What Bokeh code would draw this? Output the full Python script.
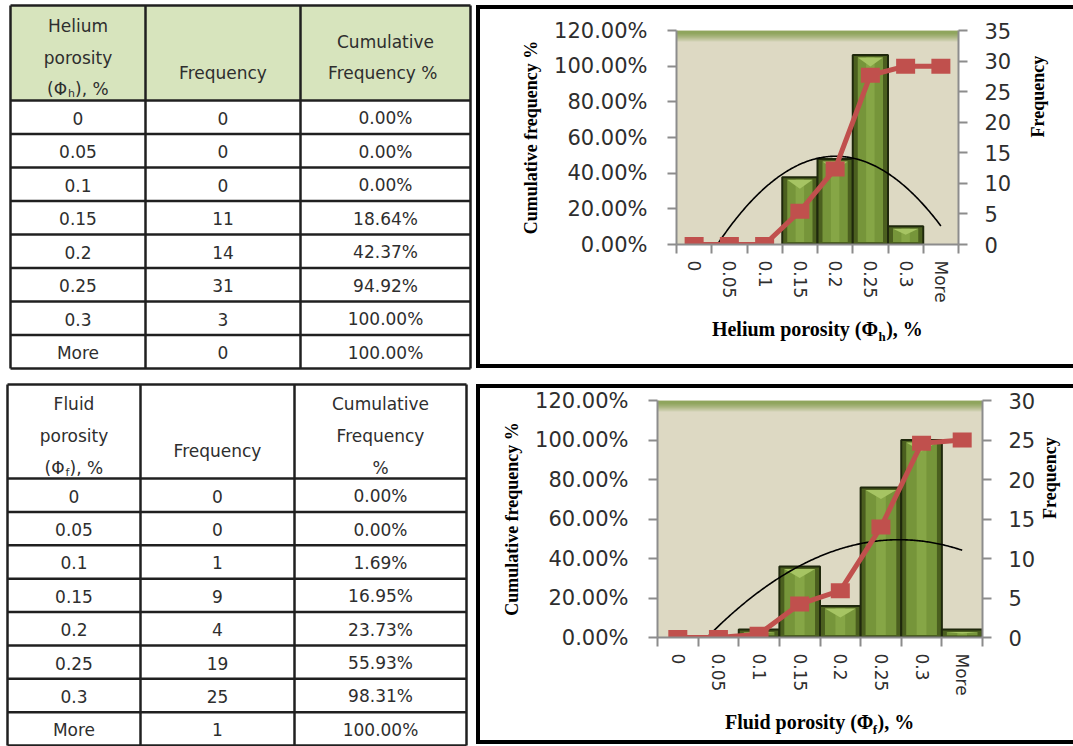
import math
import numpy as np
from bokeh.plotting import figure
from bokeh.layouts import column, row
from bokeh.models import Range1d, LinearAxis, FixedTicker, PrintfTickFormatter, Spacer
from bokeh.core.properties import value
from bokeh.embed import file_html
from bokeh.resources import INLINE

# ---------------- data ----------------
bins = ["0", "0.05", "0.1", "0.15", "0.2", "0.25", "0.3", "More"]

helium_freq = [0, 0, 0, 11, 14, 31, 3, 0]
helium_cum = [0.00, 0.00, 0.00, 18.64, 42.37, 94.92, 100.00, 100.00]

fluid_freq = [0, 0, 1, 9, 4, 19, 25, 1]
fluid_cum = [0.00, 0.00, 1.69, 16.95, 23.73, 55.93, 98.31, 100.00]

cum_ticks = [0, 20, 40, 60, 80, 100, 120]
helium_freq_ticks = [0, 5, 10, 15, 20, 25, 30, 35]
fluid_freq_ticks = [0, 5, 10, 15, 20, 25, 30]

# ---------------- styles ----------------
AXIS_GREY = "#8C8C8C"
TEXT_DARK = "#2E2E2E"
RED = "#C0504D"
TABLE_LINE = "#202020"
SANS = "DejaVu Sans"
SERIF = "Liberation Serif"
N = len(bins)
BOX_SHADOW = "inset 4px 0 0 0 #000, inset 0 4px 0 0 #000, inset 0 -4px 0 0 #000"


def build_table(width, height, cols, top, head_bottom, bottom, head_fill,
                head_lines, sub_line, freq, cum):
    p = figure(width=width, height=height, x_range=Range1d(0, width),
               y_range=Range1d(height, 0), output_backend="svg",
               toolbar_location=None, title=None, min_border=0,
               x_axis_location=None, y_axis_location=None,
               outline_line_color=None)
    p.grid.visible = False
    x0, x1, x2, x3 = cols
    if head_fill:
        p.quad(left=[x0], right=[x3], top=[top], bottom=[head_bottom],
               fill_color=head_fill, line_color=None)
    rh = (bottom - head_bottom) / N
    edges = [head_bottom + k * rh for k in range(N + 1)]
    hy = [top] + edges
    p.segment(x0=[x0] * len(hy), x1=[x3] * len(hy), y0=hy, y1=hy,
              line_color=TABLE_LINE, line_width=2.5)
    p.segment(x0=list(cols), x1=list(cols), y0=[top] * 4, y1=[bottom] * 4,
              line_color=TABLE_LINE, line_width=2.5)

    centers = [(x0 + x1) / 2, (x1 + x2) / 2, (x2 + x3) / 2]
    row_mid = [head_bottom + (k + 0.5) * rh + 1 for k in range(N)]
    common = dict(text_font=value(SANS), text_font_size="17px",
                  text_align="center", text_baseline="middle",
                  text_color=TEXT_DARK)
    p.text(x=[centers[0]] * N, y=row_mid, text=bins, **common)
    p.text(x=[centers[1]] * N, y=row_mid, text=[str(v) for v in freq], **common)
    p.text(x=[centers[2]] * N, y=row_mid, text=[f"{v:.2f}%" for v in cum], **common)

    for col, txt, y in head_lines:
        p.text(x=[centers[col]], y=[y], text=[txt], **common)
    pre, sub, post, y, wp, ws, wt = sub_line
    start = centers[0] - (wp + ws + wt) / 2
    left_common = dict(common, text_align="left")
    p.text(x=[start], y=[y], text=[pre], **left_common)
    p.text(x=[start + wp], y=[y + 5], text=[sub],
           **dict(left_common, text_font_size="11px"))
    p.text(x=[start + wp + ws], y=[y], text=[post], **left_common)
    return p


def style_value_axis(ax, standoff):
    ax.major_label_text_font = SANS
    ax.major_label_text_font_size = "21px"
    ax.major_label_text_color = TEXT_DARK
    ax.major_label_standoff = standoff
    ax.major_tick_out = 9
    ax.major_tick_in = 0
    ax.major_tick_line_color = AXIS_GREY
    ax.major_tick_line_width = 2
    ax.minor_tick_line_color = None
    ax.axis_line_color = AXIS_GREY
    ax.axis_line_width = 2


def text_axis(ticks, labels, size, standoff):
    ax = LinearAxis(ticker=FixedTicker(ticks=ticks, minor_ticks=[]))
    ax.major_label_overrides = dict(zip(ticks, labels))
    ax.axis_line_color = None
    ax.major_tick_line_color = None
    ax.minor_tick_line_color = None
    ax.major_tick_out = 0
    ax.major_tick_in = 0
    ax.major_label_standoff = standoff
    ax.major_label_text_font = SERIF
    ax.major_label_text_font_style = "bold"
    ax.major_label_text_font_size = size
    ax.major_label_text_color = "black"
    return ax


def build_chart(freq, cum, fmax, fticks, title_parts, origin, frame, size,
                freq_title_standoff):
    ox, oy = origin
    fl, ft, fw, fh = frame
    W, H = size
    p = figure(width=W, height=H,
               min_border_left=fl - ox, min_border_right=ox + W - (fl + fw),
               min_border_top=ft - oy, min_border_bottom=oy + H - (ft + fh),
               x_range=Range1d(0, N), y_range=Range1d(0, 120),
               output_backend="svg", toolbar_location=None, title=None,
               background_fill_color="#DDD9C3", border_fill_color=None,
               outline_line_color=None, styles={"box-shadow": BOX_SHADOW})
    p.grid.visible = False
    p.extra_y_ranges = {"freq": Range1d(0, fmax)}

    def xd(px):
        return (px - fl) / fw * N

    def yd(py):
        return (ft + fh - py) / fh * 120

    # olive band along the top of the plot area
    k = np.arange(12)
    alphas = [1.0 if i < 3 else max(0.0, 1 - (i - 2) / 9) for i in k]
    p.quad(left=0, right=N, top=[yd(ft + i) for i in k],
           bottom=[yd(ft + i + 1) for i in k], fill_color="#77933C",
           fill_alpha=alphas, line_color=None)

    # bevelled histogram bars
    slot_px = fw / N
    fpx = fh / fmax
    idx = [i for i, f in enumerate(freq) if f > 0]
    hts = [freq[i] for i in idx]
    ix = 5 / slot_px
    iy = 2.5 / fpx
    p.quad(left=idx, right=[i + 1 for i in idx], bottom=0, top=hts,
           fill_color="#4B5F1F", line_color="#1F280C", line_width=2,
           y_range_name="freq")
    inner_top = [max(h - iy, h * 0.6) for h in hts]
    inner_bot = [min(iy, h * 0.3) for h in hts]
    p.quad(left=[i + ix for i in idx], right=[i + 1 - ix for i in idx],
           bottom=inner_bot, top=inner_top, fill_color="#76953A",
           line_color=None, y_range_name="freq")
    p.quad(left=[i + 0.38 for i in idx], right=[i + 0.62 for i in idx],
           bottom=inner_bot, top=inner_top, fill_color="#86A646",
           line_color=None, y_range_name="freq")
    tri_xs, tri_ys = [], []
    for i, t, b in zip(idx, inner_top, inner_bot):
        depth = min(9 / fpx, (t - b) * 0.45)
        tri_xs.append([i + ix, i + 1 - ix, i + 0.5])
        tri_ys.append([t, t, t - depth])
    p.patches(tri_xs, tri_ys, fill_color="#A6C463", line_color=None,
              y_range_name="freq")

    # second-order polynomial trend of the frequency series
    pos = np.arange(N, dtype=float)
    coef = np.polyfit(pos, np.array(freq, dtype=float), 2)
    roots = [r.real for r in np.roots(coef)
             if abs(r.imag) < 1e-9 and 0 <= r.real <= N - 1]
    start = min(roots) if roots else 0.0
    tx = np.linspace(start, N - 1, 200)
    ty = np.polyval(coef, tx)
    p.line(tx + 0.5, ty, line_color="black", line_width=1.6, y_range_name="freq")

    # cumulative percentage line with square markers
    cx = [i + 0.5 for i in range(N)]
    p.line(cx, cum, line_color=RED, line_width=5)
    p.rect(x=cx, y=cum, width=19, height=15, width_units="screen",
           height_units="screen", fill_color=RED, line_color=None)

    # bottom axis: labels at bin centres, tick marks at bin edges
    xa = p.xaxis[0]
    xa.ticker = FixedTicker(ticks=cx, minor_ticks=list(range(N + 1)))
    xa.major_label_overrides = {c: b for c, b in zip(cx, bins)}
    xa.major_tick_line_color = None
    xa.major_tick_out = 9
    xa.major_tick_in = 0
    xa.minor_tick_line_color = AXIS_GREY
    xa.minor_tick_line_width = 2
    xa.minor_tick_out = 9
    xa.minor_tick_in = 0
    xa.major_label_orientation = "vertical"
    xa.major_label_standoff = 7
    xa.major_label_text_font = SANS
    xa.major_label_text_font_size = "17px"
    xa.major_label_text_color = TEXT_DARK
    xa.axis_line_color = AXIS_GREY
    xa.axis_line_width = 2

    # x title with a subscript, laid out as two rows of text-only axes
    pre, sub, post, wp, ws, wt = title_parts
    start_px = fl + fw / 2 - (wp + ws + wt) / 2
    main_ticks = [xd(start_px + wp / 2), xd(start_px + wp + ws + wt / 2)]
    p.add_layout(text_axis(main_ticks, [pre, post], "20px", 12), "below")
    p.add_layout(text_axis([xd(start_px + wp + ws / 2)], [sub], "13px", -14), "below")

    ya = p.yaxis[0]
    ya.ticker = FixedTicker(ticks=cum_ticks)
    ya.formatter = PrintfTickFormatter(format="%.2f%%")
    style_value_axis(ya, 20)
    ya.axis_label = "Cumulative frequency %"
    ya.axis_label_text_font = SERIF
    ya.axis_label_text_font_style = "bold"
    ya.axis_label_text_font_size = "18px"
    ya.axis_label_text_color = "black"
    ya.axis_label_standoff = 10

    ra = LinearAxis(y_range_name="freq", ticker=FixedTicker(ticks=fticks))
    style_value_axis(ra, 17)
    ra.axis_label = "Frequency"
    ra.axis_label_text_font = SERIF
    ra.axis_label_text_font_style = "bold"
    ra.axis_label_text_font_size = "18px"
    ra.axis_label_text_color = "black"
    ra.axis_label_standoff = freq_title_standoff
    if "axis_label_orientation" in ra.properties():
        # read upwards, like the left-hand title
        ra.axis_label_orientation = math.pi / 2
    p.add_layout(ra, "right")
    return p


t1 = build_table(
    476, 376, (10, 145, 300, 470), 5, 100, 368, "#D7E4BD",
    [(0, "Helium", 25), (0, "porosity", 57), (1, "Frequency", 72),
     (2, "Cumulative", 41), (2, "Frequency  %", 72)],
    ("(Φ", "h", "), %", 88, 21, 7, 34),
    helium_freq, helium_cum)

t2 = build_table(
    476, 370, (7, 140, 294, 466), 8, 102, 369, None,
    [(0, "Fluid", 27), (0, "porosity", 59), (1, "Frequency", 74),
     (2, "Cumulative", 27), (2, "Frequency", 59), (2, "%", 91)],
    ("(Φ", "f", "), %", 91, 21, 4, 34),
    fluid_freq, fluid_cum)

c1 = build_chart(helium_freq, helium_cum, 35, helium_freq_ticks,
                 ("Helium porosity (Φ", "h", "), %", 166, 8, 37),
                 (476, 5), (676, 30, 282, 214), (597, 363), 24)

c2 = build_chart(fluid_freq, fluid_cum, 30, fluid_freq_ticks,
                 ("Fluid porosity (Φ", "f", "), %", 148, 5, 37),
                 (476, 384), (657, 400, 328, 237), (597, 360), 12)

charts = column(Spacer(width=597, height=5), row(c1),
                Spacer(width=597, height=16), row(c2),
                Spacer(width=597, height=2))
layout = row(column(t1, t2), charts)

with open("out.html", "w") as fh_out:
    fh_out.write(file_html(layout, INLINE))
